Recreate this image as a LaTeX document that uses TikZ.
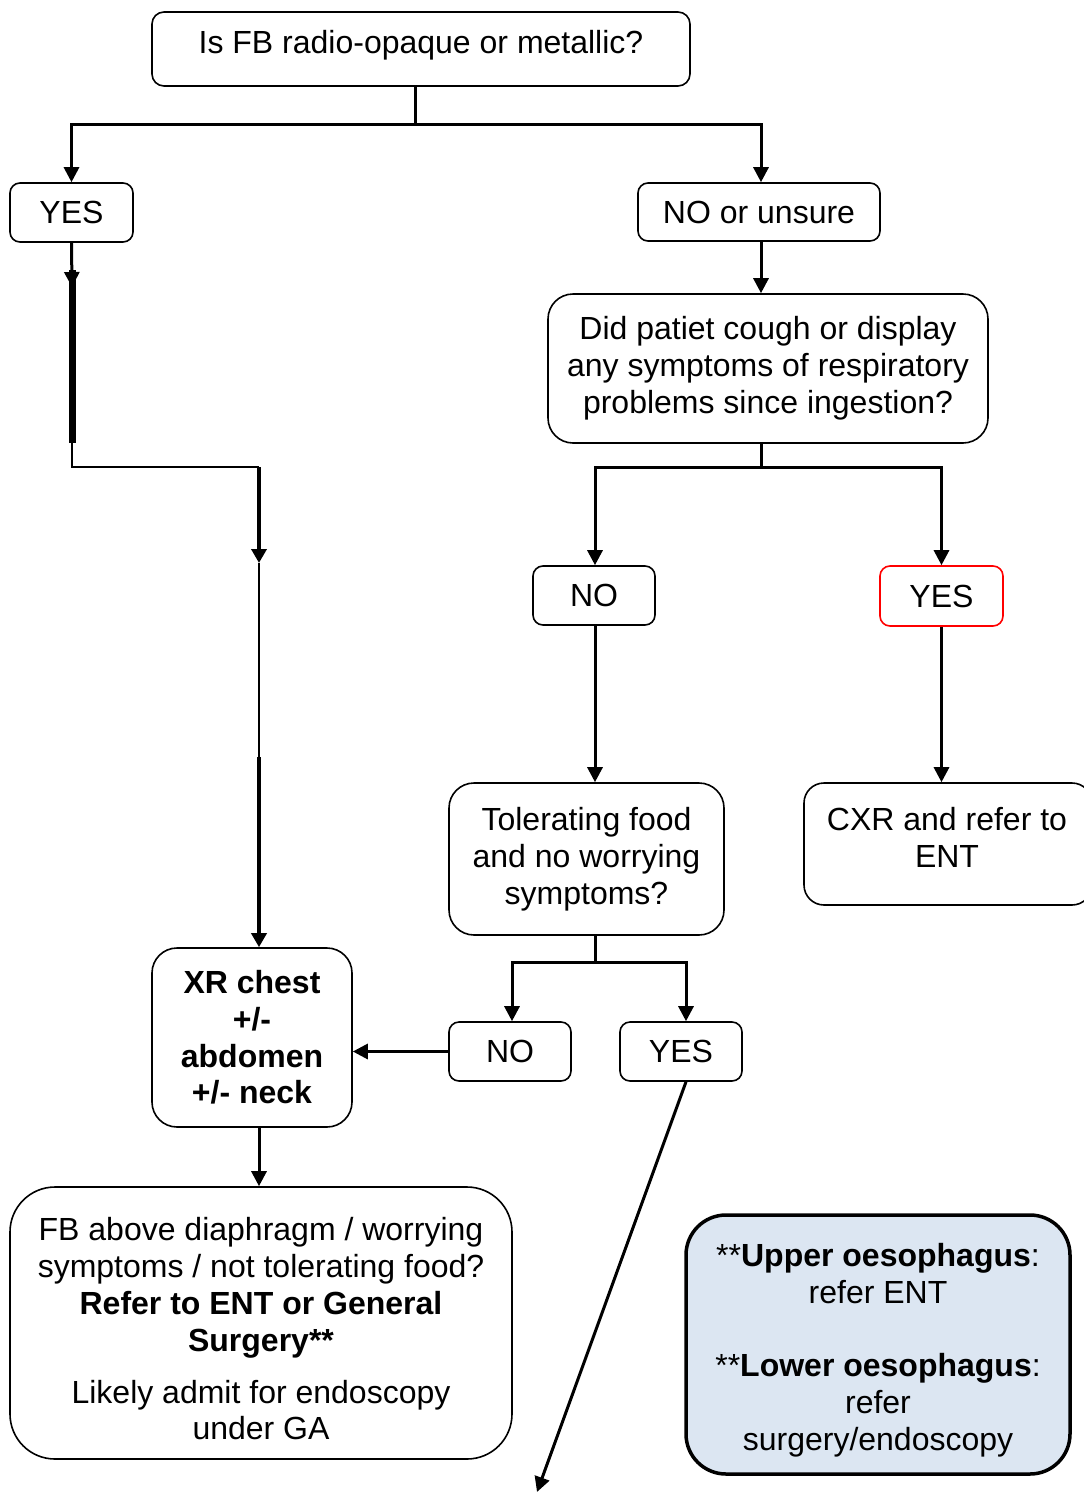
\documentclass[tikz,border=0pt]{standalone}
\usepackage{fontspec}
\setmainfont{Liberation Sans}
\usetikzlibrary{arrows.meta,calc}
\definecolor{paleblue}{HTML}{DCE6F2}
\begin{document}
\begin{tikzpicture}[x=1pt,y=-1pt,
  every node/.style={font=\fontsize{32}{36.8}\selectfont},
  box/.style={draw=black, line width=1.6pt, rounded corners=#1, fill=white, inner sep=0pt, align=center},
  box/.default=10pt,
  txt/.style={inner sep=0pt, align=center},
  conn/.style={line width=3pt},
  arr/.style={line width=3pt, -{Triangle[width=15pt,length=15pt]}},
]
\useasboundingbox (0,0) rectangle (1084,1494);

% boxes
\node[box=12pt, minimum width=538pt, minimum height=74pt] (top) at (421,49) {};
\node[txt] (toptxt) at (421,45) {Is FB radio-opaque or metallic?};
\node[box, minimum width=123pt, minimum height=59pt] (yes1) at (71.5,212.5) {YES};
\node[box, minimum width=242pt, minimum height=58pt] (nou) at (759,212) {NO or unsure};
\node[box=25pt, minimum width=440pt, minimum height=149pt] (did) at (768,368.5)
  {Did patiet cough or display\\any symptoms of respiratory\\problems since ingestion?};
\node[box, minimum width=122pt, minimum height=59pt] (no1) at (594,595.5) {NO};
\node[box, draw=red, minimum width=123pt, minimum height=60pt] (yesr) at (941.5,596) {YES};
\node[box=25pt, minimum width=275pt, minimum height=152pt] (tol) at (586.5,859)
  {Tolerating food\\and no worrying\\symptoms?};
\node[box=20pt, minimum width=288pt, minimum height=122pt] (cxr) at (948,844) {};
\node[txt] (cxrtxt) at (947,837) {CXR and refer to\\ENT};
\node[box, minimum width=122pt, minimum height=59pt] (no2) at (510,1051.5) {NO};
\node[box, minimum width=122pt, minimum height=59pt] (yes2) at (681,1051.5) {YES};
\node[box=25pt, minimum width=200pt, minimum height=179pt, font=\fontsize{32}{36.8}\selectfont\bfseries] (xr) at (252,1037.5)
  {XR chest\\+/-\\abdomen\\+/- neck};
\node[box=45pt, minimum width=502pt, minimum height=272pt] (fb) at (261,1323) {};
\node[txt] (fbtxt) at (261,1329) {FB above diaphragm / worrying\\symptoms / not tolerating food?\\\textbf{Refer to ENT or General}\\\textbf{Surgery**}\\[15pt]Likely admit for endoscopy\\under GA};
\node[box=40pt, line width=3.5pt, fill=paleblue, minimum width=384pt, minimum height=259pt] (blue) at (878,1344.5) {};
\node[txt] (bluetxt) at (878,1350) {**\textbf{Upper oesophagus}:\\refer ENT\\[36.8pt]**\textbf{Lower oesophagus}:\\refer\\surgery/endoscopy};

% junction coordinates
\coordinate (j1) at (415,124);
\coordinate (j2) at (761,467);
\coordinate (j3) at (595,962);
\coordinate (k1) at (512,962);
\coordinate (k2) at (686,962);
\coordinate (a1) at (72,287);
\coordinate (a0) at (72,270);
\coordinate (a2) at (72,443);
\coordinate (a3) at (72,467);
\coordinate (b1) at (259,467);
\coordinate (b2) at (259,563);
\coordinate (b3) at (259,757);
\coordinate (endpt) at (537,1492);

% connectors
\draw[conn] (top.south -| j1) -- (j1);
\draw[arr] (j1) -| (yes1.north);
\draw[arr] (j1) -| (nou.north -| j2);
\draw[arr] (nou.south -| j2) -- (did.north -| j2);
\draw[conn] (did.south -| j2) -- (j2);
\draw[arr] (j2) -| (no1.north -| j3);
\draw[arr] (j2) -| (yesr.north);
\draw[arr] (no1.south -| j3) -- (tol.north -| j3);
\draw[arr] (yesr.south) -- (cxr.north -| yesr.south);
\draw[conn] (tol.south -| j3) -- (j3);
\draw[arr] (j3) -- (k1) -- (no2.north -| k1);
\draw[arr] (j3) -- (k2) -- (yes2.north -| k2);
\draw[arr] (no2.west) -- (xr.east |- no2.west);
\draw[arr] (yes2.south -| k2) -- (endpt);
\draw[arr] (xr.south -| b1) -- (fb.north -| b1);

% left YES path
\draw[arr] (yes1.south) -- (a1);
\draw[line width=7pt] (a0) -- (a2);
\draw[line width=2pt] (a2) -- (a3) -- (b1);
\draw[line width=4pt, -{Triangle[width=15pt,length=14pt]}] (b1) -- (b2);
\draw[line width=2pt] (b2) -- (b3);
\draw[line width=4pt, -{Triangle[width=15pt,length=14pt]}] (b3) -- (xr.north -| b1);
\end{tikzpicture}
\end{document}
